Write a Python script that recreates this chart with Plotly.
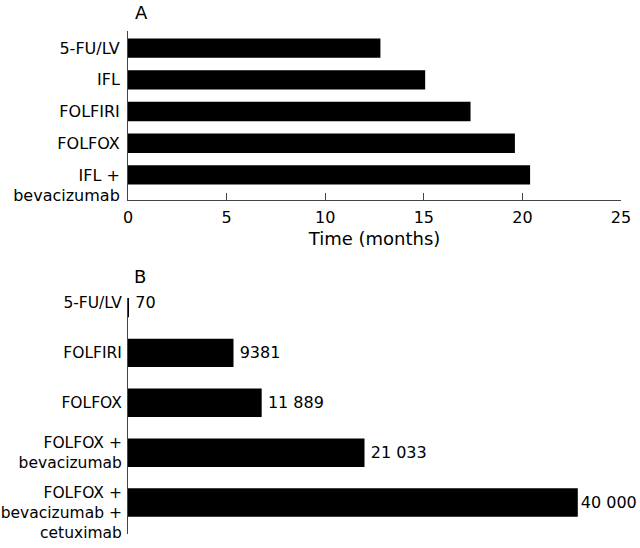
import plotly.graph_objects as go

# ---- Panel A data: median survival (months) ----
a_regimens = ["5-FU/LV", "IFL", "FOLFIRI", "FOLFOX", "IFL + bevacizumab"]
a_labels = ["5-FU/LV", "IFL", "FOLFIRI", "FOLFOX", " <br>IFL +<br>bevacizumab"]
a_months = [12.8, 15.07, 17.37, 19.62, 20.39]
a_ticks = [0, 5, 10, 15, 20, 25]

# ---- Panel B data: cost ----
b_regimens = ["5-FU/LV", "FOLFIRI", "FOLFOX", "FOLFOX + bevacizumab",
              "FOLFOX + bevacizumab + cetuximab"]
b_labels = ["5-FU/LV", "FOLFIRI", "FOLFOX", "FOLFOX +<br>bevacizumab",
            " <br>FOLFOX +<br>bevacizumab +<br>cetuximab"]
b_cost = [70, 9381, 11889, 21033, 40000]
b_cost_text = ["70", "9381", "11 889", "21 033", "40 000"]

FONT = "'DejaVu Sans', sans-serif"
W, H = 640, 548
ML, MR, MT, MB = 128, 19, 31, 14
PH = H - MT - MB

def fy(px):
    return (H - MB - px) / PH

# small gap between bar end and its value label (none for the last one,
# which sits against the right edge in the reference)
b_text_shown = ["\u2009" + t for t in b_cost_text[:-1]] + [b_cost_text[-1]]

fig = go.Figure()
fig.add_trace(go.Bar(
    x=a_months, y=a_regimens, orientation="h", width=0.61,
    marker=dict(color="black", line=dict(width=0)),
    xaxis="x", yaxis="y", showlegend=False,
))
fig.add_trace(go.Bar(
    x=b_cost, y=b_regimens, orientation="h", width=0.57,
    marker=dict(color="black", line=dict(width=0)),
    text=b_text_shown, textposition="outside",
    constraintext="none",
    textfont=dict(family=FONT, size=16, color="black"),
    cliponaxis=False,
    xaxis="x2", yaxis="y2", showlegend=False,
))

axcol = "#444444"
fig.update_layout(
    template="none",
    width=W, height=H,
    margin=dict(l=ML, r=MR, t=MT, b=MB, autoexpand=False),
    paper_bgcolor="white", plot_bgcolor="white",
    font=dict(family=FONT, size=16, color="black"),
    xaxis=dict(
        domain=[0, 1], anchor="y", range=[0, 25], tickvals=a_ticks,
        ticks="inside", ticklen=7, tickcolor=axcol, showline=True,
        linecolor=axcol, linewidth=1, showgrid=False, zeroline=False,
        automargin=False, ticklabelstandoff=3,
        title=dict(text="Time (months)", font=dict(size=18), standoff=6),
    ),
    yaxis=dict(
        domain=[fy(200), 1], anchor="x", type="category",
        tickvals=a_regimens, ticktext=a_labels, range=[4.79, -0.54],
        ticks="", showline=True, linecolor=axcol, linewidth=1,
        showgrid=False, zeroline=False, ticklabelstandoff=4,
        automargin=False,
    ),
    xaxis2=dict(
        domain=[0, 1], anchor="y2", range=[0, 43842], visible=False,
        automargin=False,
    ),
    yaxis2=dict(
        domain=[0, fy(298)], anchor="x2", type="category",
        tickvals=b_regimens, ticktext=b_labels, range=[4.63, -0.1],
        ticks="", showline=True, linecolor=axcol, linewidth=1,
        showgrid=False, zeroline=False, ticklabelstandoff=2,
        tickfont=dict(size=15.5),
        automargin=False,
    ),
    annotations=[
        dict(text="A", x=141, y=12, xref="paper", yref="paper",
             xanchor="center", yanchor="middle",
             showarrow=False, font=dict(size=18)),
        dict(text="B", x=140, y=276, xref="paper", yref="paper",
             xanchor="center", yanchor="middle",
             showarrow=False, font=dict(size=18)),
    ],
)
# convert annotation pixel positions to paper coordinates
for ann in fig.layout.annotations:
    ann.x = (ann.x - ML) / (W - ML - MR)
    ann.y = (H - MB - ann.y) / PH

# remove the browser's default body margin so the figure sits at (0, 0)
fig.write_html(
    "out.html",
    config={"displayModeBar": False},
    post_script="document.body.style.margin='0';",
)
